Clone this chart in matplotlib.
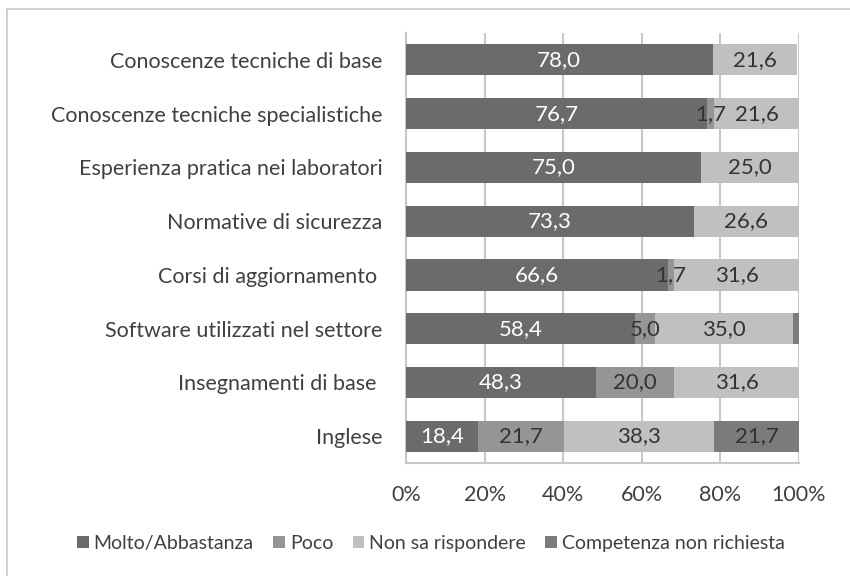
import numpy as np
import matplotlib
matplotlib.use("Agg")
import matplotlib.pyplot as plt
from matplotlib.lines import Line2D

plt.rcParams['font.family'] = ['Lato', 'DejaVu Sans']

categories = [
    "Conoscenze tecniche di base",
    "Conoscenze tecniche specialistiche",
    "Esperienza pratica nei laboratori",
    "Normative di sicurezza",
    "Corsi di aggiornamento ",
    "Software utilizzati nel settore",
    "Insegnamenti di base ",
    "Inglese",
]
series_names = ["Molto/Abbastanza", "Poco", "Non sa rispondere", "Competenza non richiesta"]
molto = [78.0, 76.7, 75.0, 73.3, 66.6, 58.4, 48.3, 18.4]
poco = [0.0, 1.7, 0.0, 0.0, 1.7, 5.0, 20.0, 21.7]
non_sa = [21.6, 21.6, 25.0, 26.6, 31.6, 35.0, 31.6, 38.3]
non_richiesta = [0.0, 0.0, 0.0, 0.0, 0.0, 1.6, 0.0, 21.7]

colors = ["#6b6b6d", "#959595", "#c0c0c0", "#7b7b7b"]
label_colors = ["white", "#333333", "#333333", "#333333"]
text_color = "#404040"

fig = plt.figure(figsize=(8.5, 5.76), dpi=100)
ax = fig.add_axes([0.4776, 0.196, 0.4624, 0.7468])

y = np.arange(len(categories))
left = np.zeros(len(categories))
for name, vals, col, lc in zip(series_names, [molto, poco, non_sa, non_richiesta], colors, label_colors):
    vals = np.array(vals)
    ax.barh(y, vals, left=left, height=0.58, color=col, label=name, zorder=3)
    for yi, (l, v) in enumerate(zip(left, vals)):
        if v >= 1.7:
            ax.text(l + v / 2, yi, f"{v:.1f}".replace(".", ","), ha="center", va="center",
                    color=lc, fontsize=16, zorder=4)
    left = left + vals

ax.set_xlim(0, 100)
ax.set_ylim(len(categories) - 0.5, -0.5)
ax.set_yticks(y)
ax.set_yticklabels(categories, fontsize=15.5, color=text_color)
ax.set_xticks(np.arange(0, 101, 20))
ax.set_xticklabels([f"{t}%" for t in range(0, 101, 20)], fontsize=15.5, color=text_color)
ax.tick_params(axis="y", length=0, pad=17)
ax.tick_params(axis="x", length=0, pad=16)
ax.grid(axis="x", color="#c8c8c8", linewidth=1.5, zorder=0)
for s in ["top", "right"]:
    ax.spines[s].set_visible(False)
for s in ["left", "bottom"]:
    ax.spines[s].set_color("#c8c8c8")
    ax.spines[s].set_linewidth(1.5)

ax.legend(loc="center", bbox_to_anchor=(0.507, 0.057), bbox_transform=fig.transFigure,
          ncol=4, frameon=False, fontsize=14, handlelength=0.6, handleheight=0.6,
          handletextpad=0.25, columnspacing=1.0, labelcolor=text_color)

# chart area border (only left and top visible)
fig.add_artist(Line2D([0.0085, 0.0085], [0.0, 1 - 9 / 576], transform=fig.transFigure,
                      color="#c8c8c8", linewidth=1.2))
fig.add_artist(Line2D([0.0085, 1.0], [1 - 9 / 576, 1 - 9 / 576], transform=fig.transFigure,
                      color="#c8c8c8", linewidth=1.2))

fig.savefig("out.png", dpi=100, facecolor="white")
